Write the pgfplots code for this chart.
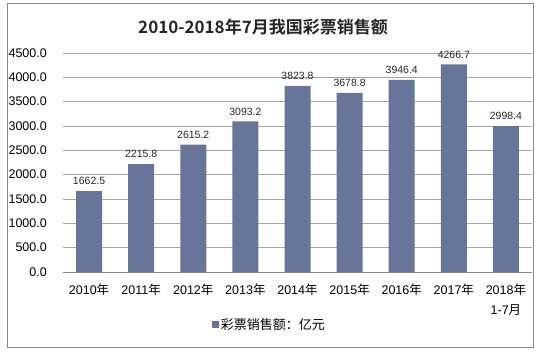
\documentclass[border=0pt]{standalone}
\usepackage{fontspec}
\setmainfont{Liberation Sans}
\newfontfamily\cjk{Noto Sans CJK SC}[BoldFont={Noto Sans CJK SC Bold}]
\usepackage{pgfplots}
\pgfplotsset{compat=1.18}
\definecolor{barcol}{RGB}{104,117,155}
\definecolor{gridcol}{RGB}{166,166,166}
\definecolor{axiscol}{RGB}{134,134,134}
\definecolor{bordercol}{RGB}{136,136,136}
\begin{document}
\begin{tikzpicture}
\useasboundingbox (0pt,0pt) rectangle (540pt,-352pt);
\draw[bordercol, line width=0.8pt] (7pt,-3pt) rectangle (533pt,-347pt);
\node[font=\cjk\bfseries\fontsize{17}{20}\selectfont, text=black!85] at (263pt,-27pt) {2010-2018年7月我国彩票销售额};
\begin{axis}[
  at={(63pt,-272pt)}, anchor=south west,
  scale only axis, width=469pt, height=219pt,
  xmin=-0.5, xmax=8.5, ymin=0, ymax=4500,
  axis line style={draw=none},
  axis x line*=bottom,
  ymajorgrids, grid style={gridcol, line width=0.7pt},
  major tick length=0pt,
  ytick={0,500,...,4500},
  yticklabels={0.0,500.0,1000.0,1500.0,2000.0,2500.0,3000.0,3500.0,4000.0,4500.0},
  yticklabel style={anchor=east, inner sep=0pt, xshift=-16pt, font=\fontsize{12.5}{15}\selectfont},
  xtick={0,...,8},
  xticklabels={2010{\cjk 年},2011{\cjk 年},2012{\cjk 年},2013{\cjk 年},2014{\cjk 年},2015{\cjk 年},2016{\cjk 年},2017{\cjk 年},{2018{\cjk 年}\\1-7{\cjk 月}}},
  xticklabel style={anchor=north, align=center, inner sep=0pt, yshift=-12pt, font=\fontsize{12.5}{20}\selectfont},
  ybar, bar width=26pt,
  point meta=explicit symbolic,
  nodes near coords,
  nodes near coords style={anchor=south, inner sep=0pt, yshift=6pt, font=\fontsize{10.5}{12}\selectfont, text=black!85},
  legend style={at={(0.44,-0.242)}, anchor=center, draw=none, fill=none, font=\fontsize{13}{15}\selectfont, inner sep=0pt,
    nodes={inner sep=1.5pt}},
  legend image code/.code={\fill[barcol] (0pt,-3.5pt) rectangle (7pt,3.5pt);},
  clip=false,
]
\draw[axiscol, line width=0.8pt] (axis cs:-0.5,0) -- (axis cs:8.5,0);
\addplot[fill=barcol, draw=none] coordinates {
  (0,1662.5) [1662.5]
  (1,2215.8) [2215.8]
  (2,2615.2) [2615.2]
  (3,3093.2) [3093.2]
  (4,3823.8) [3823.8]
  (5,3678.8) [3678.8]
  (6,3946.4) [3946.4]
  (7,4266.7) [4266.7]
  (8,2998.4) [2998.4]
};
\addlegendentry{{\cjk 彩票销售额：亿元}}
\end{axis}
\end{tikzpicture}
\end{document}
